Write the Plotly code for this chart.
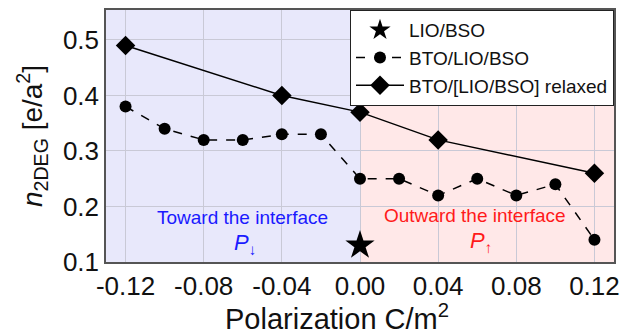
import plotly.graph_objects as go

# Data
pol_bto = [-0.12, -0.10, -0.08, -0.06, -0.04, -0.02, 0.00, 0.02, 0.04, 0.06, 0.08, 0.10, 0.12]
n_bto = [0.38, 0.34, 0.32, 0.32, 0.33, 0.33, 0.25, 0.25, 0.22, 0.25, 0.22, 0.24, 0.14]
pol_relaxed = [-0.12, -0.04, 0.00, 0.04, 0.12]
n_relaxed = [0.49, 0.40, 0.37, 0.32, 0.26]
pol_lio = [0.00]
n_lio = [0.13]
x_ticks = [-0.12, -0.08, -0.04, 0.00, 0.04, 0.08, 0.12]
x_ticklabels = ["-0.12", "-0.08", "-0.04", "0.00", "0.04", "0.08", "0.12"]
y_ticks = [0.1, 0.2, 0.3, 0.4, 0.5]

FONT = "Liberation Sans, Arial, sans-serif"

fig = go.Figure()
fig.add_trace(go.Scatter(x=pol_lio, y=n_lio, mode="markers", name="LIO/BSO",
                         marker=dict(symbol="star", size=22, color="black")))
fig.add_trace(go.Scatter(x=pol_bto, y=n_bto, mode="lines+markers", name="BTO/LIO/BSO",
                         line=dict(color="black", width=1.5, dash="dash"),
                         marker=dict(symbol="circle", size=12, color="black")))
fig.add_trace(go.Scatter(x=pol_relaxed, y=n_relaxed, mode="lines+markers", name="BTO/[LIO/BSO] relaxed",
                         line=dict(color="black", width=1.5),
                         marker=dict(symbol="diamond", size=15, color="black")))

fig.add_shape(type="rect", xref="x", yref="paper", x0=-0.13, x1=0.0, y0=0, y1=1,
              fillcolor="#e8e8fb", line_width=0, layer="below")
fig.add_shape(type="rect", xref="x", yref="paper", x0=0.0, x1=0.13, y0=0, y1=1,
              fillcolor="#ffe8e8", line_width=0, layer="below")

fig.add_annotation(x=-0.06, y=0.181, xref="x", yref="y", text="Toward the interface",
                   showarrow=False, font=dict(family=FONT, size=19, color="#1a1aff"))
fig.add_annotation(x=-0.059, y=0.132, xref="x", yref="y", text="<i>P</i><sub>↓</sub>",
                   showarrow=False, font=dict(family=FONT, size=22, color="#1a1aff"))
fig.add_annotation(x=0.059, y=0.183, xref="x", yref="y", text="Outward the interface",
                   showarrow=False, font=dict(family=FONT, size=19, color="#ff1a1a"))
fig.add_annotation(x=0.062, y=0.136, xref="x", yref="y", text="<i>P</i><sub>↑</sub>",
                   showarrow=False, font=dict(family=FONT, size=22, color="#ff1a1a"))

# x-axis title (slightly left of the axis centre, as in the reference)
fig.add_annotation(x=0.455, y=-0.22, xref="paper", yref="paper", yanchor="middle",
                   text="Polarization C/m<sup>2</sup>", showarrow=False,
                   font=dict(family=FONT, size=29, color="#111"))

fig.update_layout(
    width=636, height=335,
    margin=dict(l=106, r=22, t=8, b=73),
    paper_bgcolor="white", plot_bgcolor="white",
    font=dict(family=FONT, color="#111"),
    showlegend=True,
    legend=dict(x=1, y=1, xanchor="right", yanchor="top",
                bgcolor="white", bordercolor="#222", borderwidth=1,
                font=dict(family=FONT, size=19), tracegroupgap=0,
                itemsizing="trace", itemwidth=48),
    xaxis=dict(range=[-0.13, 0.13], tickvals=x_ticks, ticktext=x_ticklabels,
               showgrid=True, gridcolor="#c9c9d6", gridwidth=1, zeroline=False,
               showline=True, linecolor="#555", linewidth=1.5, mirror=True,
               ticks="", tickfont=dict(size=26)),
    yaxis=dict(range=[0.1, 0.554], tickvals=y_ticks, tickformat=".1f",
               showgrid=True, gridcolor="#c9c9d6", gridwidth=1, zeroline=False,
               showline=True, linecolor="#555", linewidth=1.5, mirror=True,
               ticks="", tickfont=dict(size=26),
               title=dict(text="<i>n</i><sub>2DEG</sub> [e/a<sup>2</sup>]", font=dict(size=28), standoff=12)),
)

fig.write_html("out.html")
